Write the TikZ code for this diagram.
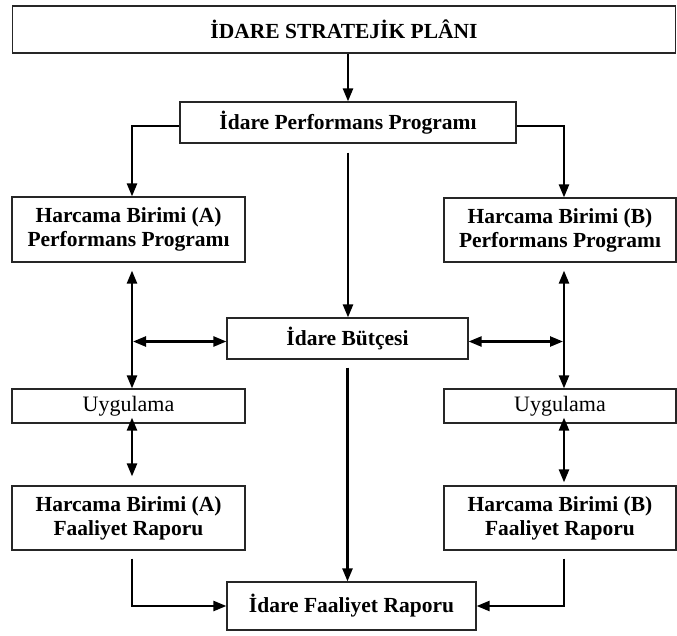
\documentclass[tikz,border=0pt]{standalone}
\usepackage{fontspec}
\setmainfont{Liberation Serif}
\usetikzlibrary{arrows.meta,calc}
\begin{document}
\begin{tikzpicture}[x=1pt,y=-1pt,
  box/.style={draw=black!85, line width=1.2pt, rectangle, inner sep=0pt, align=center,
              font=\fontsize{21.5}{24}\selectfont\bfseries},
  plainbox/.style={box, font=\fontsize{22}{24}\selectfont},
  tip/.tip={Triangle[length=13pt,width=10pt]},
  link/.style={line width=2.4pt, -tip},
  twoway/.style={line width=2.4pt, tip-tip}]
\useasboundingbox (0,0) rectangle (677,635);

% boxes
\node[box, minimum width=663pt, minimum height=47pt] (plan) at (344,29.5) {İDARE STRATEJİK PLÂNI};
\node[box, minimum width=336pt, minimum height=41pt] (perf) at (348,122.5) {İdare Performans Programı};
\node[box, minimum width=233pt, minimum height=65pt] (hA) at (128.5,229.5) {Harcama Birimi (A)\\Performans Programı};
\node[box, minimum width=232pt, minimum height=64pt] (hB) at (560,230) {Harcama Birimi (B)\\Performans Programı};
\node[box, minimum width=241pt, minimum height=41pt] (butce) at (347.5,338.5) {İdare Bütçesi};
\node[plainbox, minimum width=233pt, minimum height=34pt] (uA) at (128.5,406) {Uygulama};
\node[plainbox, minimum width=232pt, minimum height=34pt] (uB) at (560,406) {Uygulama};
\node[box, minimum width=233pt, minimum height=64pt] (fA) at (128.5,518) {Harcama Birimi (A)\\Faaliyet Raporu};
\node[box, minimum width=232pt, minimum height=64pt] (fB) at (560,518) {Harcama Birimi (B)\\Faaliyet Raporu};
\node[box, minimum width=249pt, minimum height=48pt] (ifr) at (351.5,606) {İdare Faaliyet Raporu};

% side columns
\coordinate (colL) at (132,0);
\coordinate (colR) at (564,0);

% top flow
\draw[link] (plan.south -| perf) -- (perf.north);
\draw[link] ($(perf.west)+(0,3.5)$) -| (colL |- hA.north);
\draw[link] ($(perf.east)+(0,3.5)$) -| (colR |- hB.north);
\draw[link] ($(perf.south)+(0,9)$) -- (perf.south |- butce.north);

% left column
\draw[twoway] ($(colL |- hA.south)+(0,8)$) -- (colL |- uA.north);
\draw[twoway] ($(colL |- butce.west)+(1,3)$) -- ($(butce.west)+(0,3)$);
\draw[twoway] ($(colL |- uA.south)+(0,-6)$) -- ($(colL |- fA.north)+(0,-9)$);
\draw[link] ($(colL |- fA.south)+(0,8)$) |- (ifr.west);

% right column
\draw[twoway] ($(colR |- hB.south)+(0,8)$) -- (colR |- uB.north);
\draw[twoway] ($(colR |- butce.east)+(-1,3)$) -- ($(butce.east)+(0,3)$);
\draw[twoway] ($(colR |- uB.south)+(0,-6)$) -- ($(colR |- fB.north)+(0,-3)$);
\draw[link] ($(colR |- fB.south)+(0,8)$) |- (ifr.east);

% middle
\draw[link] ($(butce.south)+(0,8)$) -- (butce.south |- ifr.north);
\end{tikzpicture}
\end{document}
